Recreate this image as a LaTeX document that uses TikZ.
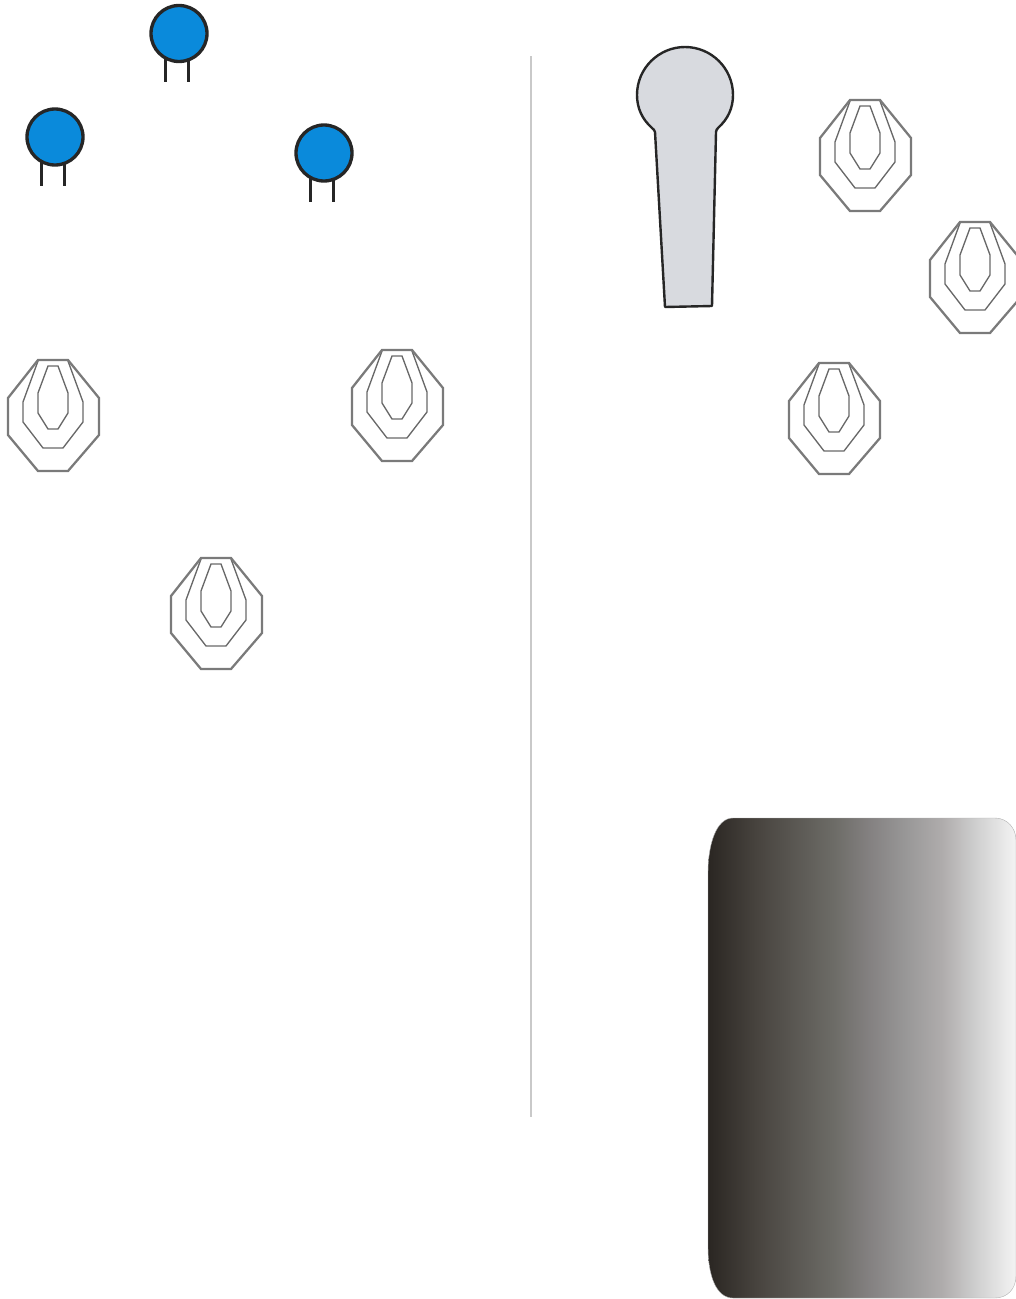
\documentclass[tikz,border=0pt]{standalone}
\definecolor{persona}{HTML}{0A8ADB}
\definecolor{headgray}{HTML}{D8DADF}
\definecolor{ringgray}{HTML}{7A7A7A}
\definecolor{dividergray}{HTML}{C9C9C9}
\definecolor{gA}{HTML}{2A2622}
\definecolor{gB}{HTML}{48443F}
\definecolor{gC}{HTML}{6D6C67}
\definecolor{gD}{HTML}{838080}
\definecolor{gE}{HTML}{989797}
\definecolor{gF}{HTML}{AFACAC}
\definecolor{gG}{HTML}{CFCFCF}
\definecolor{gH}{HTML}{F1F1F1}
\pgfdeclarehorizontalshading{panelgrad}{100bp}{
  color(0bp)=(gA); color(25bp)=(gA); color(33bp)=(gB); color(45.5bp)=(gC);
  color(51bp)=(gD); color(57bp)=(gE); color(63bp)=(gF); color(68.5bp)=(gG);
  color(74.5bp)=(gH); color(100bp)=(gH)}
\tikzset{
  x=0.75pt,y=-0.75pt,
  ringouter/.style={draw=ringgray,line width=1.7pt,line join=miter},
  ringinner/.style={draw=ringgray!85!black,line width=1pt,line join=miter},
  personleg/.style={draw=black!85,line width=2.6pt},
  personhead/.style={draw=black!85,line width=2.5pt,fill=persona},
  target/.pic={
    \draw[ringinner] (-15,1) -- (-30,42) -- (-30,62) -- (-10,88) -- (10,88) -- (30,62) -- (30,42) -- (15,1);
    \draw[ringinner] (-5,6) -- (5,6) -- (15,33) -- (15,53) -- (5,69) -- (-5,69) -- (-15,53) -- (-15,33) -- cycle;
    \draw[ringouter] (-15,0) -- (15,0) -- (46,38) -- (46,75) -- (15,111) -- (-15,111) -- (-45,75) -- (-45,38) -- cycle;
  },
  person/.pic={
    \draw[personleg] (-13.5,20) -- (-13.5,48.5);
    \draw[personleg] (9.5,20) -- (9.5,48.5);
    \draw[personhead] (0,0) circle[radius=28];
  }
}
\begin{document}
\begin{tikzpicture}
\useasboundingbox (0,0) rectangle (1016,1299);
\pic at (179,33.5) {person};
\pic at (55,137) {person};
\pic at (324,153) {person};
\draw[dividergray,line width=0.8pt] (531,56) -- (531,1117);
\pic at (53,360) {target};
\pic at (397,350) {target};
\pic at (216,558) {target};
\pic at (865,100) {target};
\pic at (975,222) {target};
\pic at (834,363) {target};
\draw[black!85,line width=1.8pt,fill=headgray,line join=round]
  (652,128) .. controls (653,129.5) and (655,130) .. (655,132)
  -- (665,307) -- (712,306) -- (716,132)
  .. controls (716,130) and (717,129.5) .. (718,128)
  .. controls (728,119) and (733,108) .. (733,95)
  .. controls (733,68) and (711,47) .. (685,47)
  .. controls (659,47) and (637,68) .. (637,95)
  .. controls (637,108) and (642,119) .. (652,128) -- cycle;
\shade[shading=panelgrad,draw=black!30,line width=0.3pt]
  (733,818) -- (995,818)
  .. controls (1007,818) and (1016,828) .. (1016,840)
  -- (1016,1276)
  .. controls (1016,1289) and (1007,1298) .. (995,1298)
  -- (733,1298)
  .. controls (716,1298) and (708,1275) .. (708,1247)
  -- (708,873)
  .. controls (708,845) and (716,818) .. (733,818) -- cycle;
\end{tikzpicture}
\end{document}
